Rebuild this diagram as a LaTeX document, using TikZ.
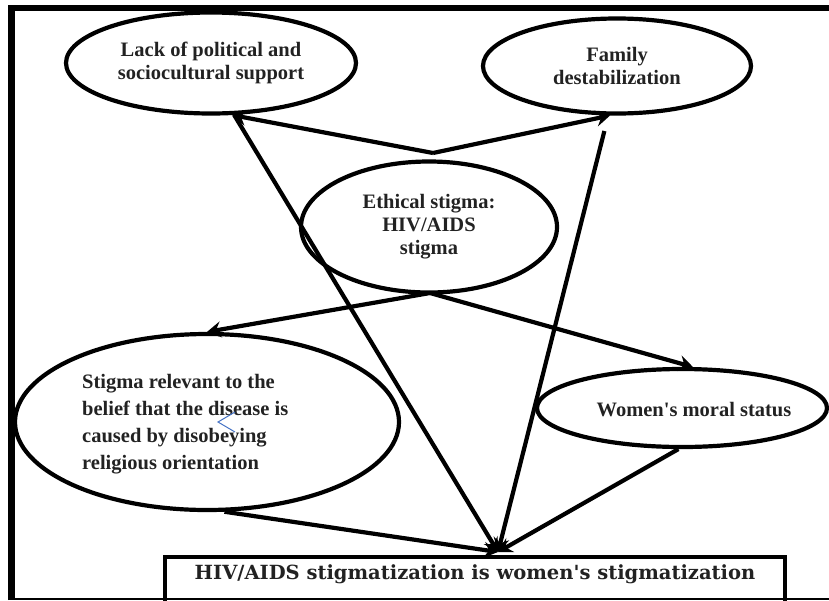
\documentclass[tikz,border=0pt]{standalone}
\usepackage{fontspec}
\setmainfont{Liberation Serif}
\newfontfamily\boxfont{DejaVu Serif}
\usetikzlibrary{shapes.geometric,arrows.meta}
\definecolor{txtgray}{RGB}{34,34,34}
\definecolor{caretblue}{RGB}{68,114,196}

\begin{document}
\begin{tikzpicture}[x=1pt,y=-1pt,
  every node/.style={inner sep=0pt,text=txtgray,font=\fontsize{20.5}{23}\selectfont\bfseries},
  bubble/.style={ellipse,draw=black,line width=4.2pt},
  link/.style={line width=4.2pt,-{Stealth[length=14pt,width=16pt,inset=5pt]}}]
\useasboundingbox (0,0) rectangle (829,600);
% frame
\draw[line width=6.5pt] (11.5,600) -- (11.5,8) -- (829,8);
\draw[line width=1.5pt] (11.5,599) -- (829,599);
% ellipses
\node[bubble,minimum width=290pt,minimum height=101pt,align=center] (lack) at (211,63) {Lack of political and\\sociocultural support};
\node[bubble,minimum width=268pt,minimum height=95pt,align=center] (family) at (617,66) {Family\\destabilization};
\node[bubble,minimum width=256pt,minimum height=131pt,align=center] (ethic) at (429,227) {Ethical stigma:\\HIV/AIDS\\stigma};
\node[bubble,minimum width=384pt,minimum height=176pt] (belief) at (207,422) {};
\node[anchor=west,align=left,font=\fontsize{20.5}{27}\selectfont\bfseries] (belieftext) at (82,424) {Stigma relevant to the\\belief that the disease is\\caused by disobeying\\religious orientation};
\node[bubble,minimum width=290pt,minimum height=78pt] (moral) at (682,408) {};
\node (moraltext) at (694,410) {Women\textquotesingle s moral status};
% result box
\node[draw=black,line width=4.2pt,minimum width=620pt,text height=15pt,text depth=17pt,inner ysep=7pt,anchor=north,font=\boxfont\fontsize{19.5}{22}\selectfont\bfseries] (result) at (475,555) {HIV/AIDS stigmatization is women\textquotesingle s stigmatization};
% connectors
\coordinate (upfork) at (433,153);
\coordinate (lowfork) at (430,293);
\coordinate (hub) at (498,552);
\draw[link] (upfork) -- (lack.-68);
\draw[link] (upfork) -- (family.-98);
\draw[link] (lowfork) -- (belief.90);
\draw[link] (lowfork) -- (moral.75);
\draw[link] (lack.-66) -- (hub);
\draw[link,shorten <=16pt] (family.-100) -- (hub);
\draw[link] (belief.-79) -- (hub);
\draw[link] (moral.-95) -- (hub);
\draw[caretblue,line width=1pt] (235,412) -- (218,422) -- (235,432);
\end{tikzpicture}
\end{document}
